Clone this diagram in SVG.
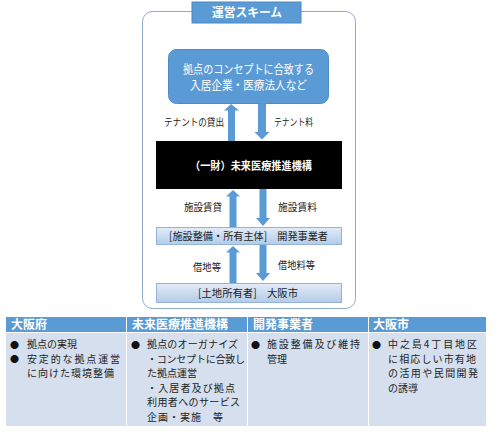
<svg xmlns="http://www.w3.org/2000/svg" width="503" height="434" viewBox="0 0 503 434">
<defs>
<linearGradient id="lg" x1="0" y1="0" x2="0" y2="1">
<stop offset="0" stop-color="#e3ecf7"/>
<stop offset="1" stop-color="#b3cbe8"/>
</linearGradient>
<style>
text{font-family:"Noto Sans CJK JP","Noto Sans CJK SC",sans-serif}
.w{fill:#fff;font-weight:bold}
.lb{font-size:10px;fill:#222}
.bx{font-size:10.5px;fill:#222}
.hd{font-size:12px;fill:#fff;font-weight:bold}
.bd{font-size:10px;fill:#222}
.bu{font-size:9px;fill:#111}
.arw{fill:#5b9bd5}
.lbox{fill:url(#lg);stroke:#95b3d7;stroke-width:1}
</style>
</defs>
<rect width="503" height="434" fill="#fff"/>
<rect x="142.5" y="11.5" width="213" height="297" rx="10" fill="none" stroke="#8eaacb" stroke-width="1"/>
<g id="title">
<rect x="192" y="2" width="109" height="21" fill="#5b9bd5" stroke="#4a88c2"/>
<text x="247" y="17" class="w" font-size="12" text-anchor="middle" textLength="70" lengthAdjust="spacingAndGlyphs">運営スキーム</text>
</g>
<g id="tenants">
<rect x="168.5" y="49.5" width="160" height="54" rx="8" fill="#5b9bd5" stroke="#4f8bc4"/>
<text x="248.5" y="74" font-size="12" fill="#fff" text-anchor="middle" textLength="131" lengthAdjust="spacingAndGlyphs">拠点のコンセプトに合致する</text>
<text x="248.5" y="90" font-size="12" fill="#fff" text-anchor="middle" textLength="117" lengthAdjust="spacingAndGlyphs">入居企業・医療法人など</text>
</g>
<g id="org">
<rect x="156" y="141" width="186" height="48" fill="#000"/>
<text x="251" y="169.5" class="w" font-size="11" text-anchor="middle" textLength="122" lengthAdjust="spacingAndGlyphs">（一財）未来医療推進機構</text>
</g>
<g id="developer">
<rect x="156.5" y="227.5" width="185" height="17" class="lbox"/>
<text x="248.5" y="240" class="bx" text-anchor="middle" textLength="159" lengthAdjust="spacingAndGlyphs">[施設整備・所有主体]　開発事業者</text>
</g>
<g id="landowner">
<rect x="156.5" y="283.5" width="185" height="19" class="lbox"/>
<text x="248" y="296.5" class="bx" text-anchor="middle" textLength="100" lengthAdjust="spacingAndGlyphs">[土地所有者]　大阪市</text>
</g>
<g id="connectors">
<polygon class="arw" points="231,104 239,110.5 235,110.5 235,141 228,141 228,110.5 224,110.5"/>
<polygon class="arw" points="258,103.5 266,103.5 266,132 269.5,132 262,139.5 254.5,132 258,132"/>
<polygon class="arw" points="233,190 240,196.5 236.5,196.5 236.5,227 229.5,227 229.5,196.5 226,196.5"/>
<polygon class="arw" points="259.5,189 266.5,189 266.5,218 270,218 263,226 256,218 259.5,218"/>
<polygon class="arw" points="233,246 240,252.5 236.5,252.5 236.5,283 229.5,283 229.5,252.5 226,252.5"/>
<polygon class="arw" points="259.5,245 266.5,245 266.5,273 270,273 263,281 256,273 259.5,273"/>
<text x="224" y="126" class="lb" text-anchor="end" textLength="60" lengthAdjust="spacingAndGlyphs">テナントの貸出</text>
<text x="274" y="126" class="lb" textLength="39" lengthAdjust="spacingAndGlyphs">テナント料</text>
<text x="184" y="211" class="lb" textLength="38" lengthAdjust="spacingAndGlyphs">施設賃貸</text>
<text x="278" y="211" class="lb" textLength="39" lengthAdjust="spacingAndGlyphs">施設賃料</text>
<text x="193" y="271" class="lb" textLength="28" lengthAdjust="spacingAndGlyphs">借地等</text>
<text x="278" y="269" class="lb" textLength="37" lengthAdjust="spacingAndGlyphs">借地料等</text>
</g>
<g id="table">
<rect x="6" y="317" width="120" height="15" fill="#5b9bd5"/>
<rect x="127" y="317" width="120" height="15" fill="#5b9bd5"/>
<rect x="248" y="317" width="120" height="15" fill="#5b9bd5"/>
<rect x="369" y="317" width="117" height="15" fill="#5b9bd5"/>
<rect x="6" y="333" width="120" height="93" fill="#d5dfee"/>
<rect x="127" y="333" width="120" height="93" fill="#d5dfee"/>
<rect x="248" y="333" width="120" height="93" fill="#d5dfee"/>
<rect x="369" y="333" width="117" height="93" fill="#d5dfee"/>
<text x="11" y="329" class="hd">大阪府</text>
<text x="132" y="329" class="hd">未来医療推進機構</text>
<text x="253" y="329" class="hd">開発事業者</text>
<text x="373" y="329" class="hd">大阪市</text>
<text x="10" y="347.5" class="bu">●</text>
<text x="10" y="362" class="bu">●</text>
<text x="131" y="347.5" class="bu">●</text>
<text x="251" y="347.5" class="bu">●</text>
<text x="372" y="347.5" class="bu">●</text>
<g class="bd">
<text x="27" y="348">拠点の実現</text>
<text x="27" y="362.6" textLength="93">安定的な拠点運営</text>
<text x="27" y="377.2" textLength="87">に向けた環境整備</text>
<text x="147" y="348" textLength="91">拠点のオーガナイズ</text>
<text x="147" y="362.6" textLength="98">・コンセプトに合致し</text>
<text x="147" y="377.2">た拠点運営</text>
<text x="147" y="391.8" textLength="88">・入居者及び拠点</text>
<text x="147" y="406.4" textLength="93">利用者へのサービス</text>
<text x="147" y="421" textLength="76">企画・実施　等</text>
<text x="267" y="348" textLength="93">施設整備及び維持</text>
<text x="267" y="362.6">管理</text>
<text x="388" y="348" textLength="89">中之島4丁目地区</text>
<text x="388" y="362.6" textLength="88">に相応しい市有地</text>
<text x="388" y="377.2" textLength="90">の活用や民間開発</text>
<text x="388" y="391.8">の誘導</text>
</g>
</g>
</svg>
